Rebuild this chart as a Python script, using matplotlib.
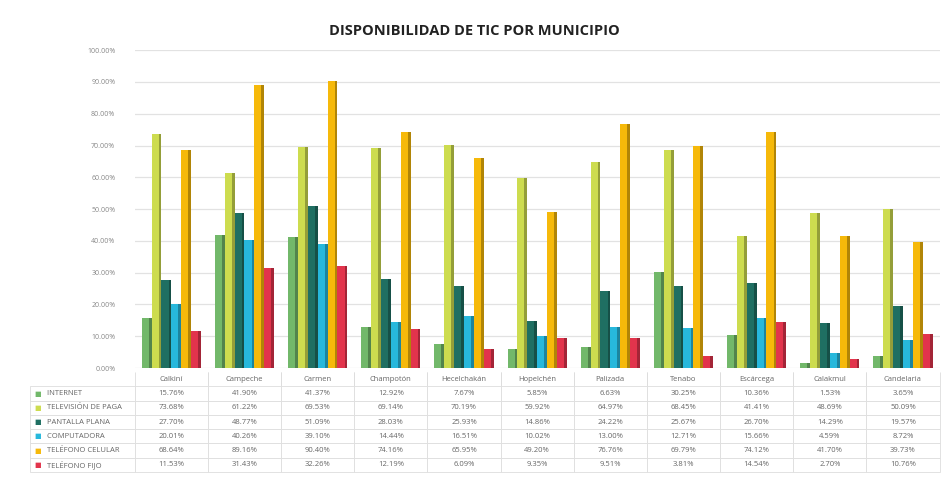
import matplotlib.pyplot as plt
import matplotlib.colors as mcolors
import numpy as np

# Data
municipios = ['Calkiní', 'Campeche', 'Carmen', 'Champotón', 'Hecelchakán', 'Hopelchén',
              'Palizada', 'Tenabo', 'Escárcega', 'Calakmul', 'Candelaria']
series = ['INTERNET', 'TELEVISIÓN DE PAGA', 'PANTALLA PLANA', 'COMPUTADORA',
          'TELÉFONO CELULAR', 'TELÉFONO FIJO']
internet = [15.76, 41.90, 41.37, 12.92, 7.67, 5.85, 6.63, 30.25, 10.36, 1.53, 3.65]
tv_paga = [73.68, 61.22, 69.53, 69.14, 70.19, 59.92, 64.97, 68.45, 41.41, 48.69, 50.09]
pantalla = [27.70, 48.77, 51.09, 28.03, 25.93, 14.86, 24.22, 25.67, 26.70, 14.29, 19.57]
computadora = [20.01, 40.26, 39.10, 14.44, 16.51, 10.02, 13.00, 12.71, 15.66, 4.59, 8.72]
celular = [68.64, 89.16, 90.40, 74.16, 65.95, 49.20, 76.76, 69.79, 74.12, 41.70, 39.73]
fijo = [11.53, 31.43, 32.26, 12.19, 6.09, 9.35, 9.51, 3.81, 14.54, 2.70, 10.76]
colores = ['#72b86a', '#cddc4f', '#1f6f62', '#27b8dc', '#f6b90a', '#e2344c']

valores = [internet, tv_paga, pantalla, computadora, celular, fijo]

plt.rcParams['font.family'] = ['Open Sans', 'DejaVu Sans']

fig = plt.figure(figsize=(9.49, 4.78), dpi=100)
ax = fig.add_axes([0.142, 0.230, 0.848, 0.665])

x = np.arange(len(municipios))
w = 0.135
for i, (vals, c) in enumerate(zip(valores, colores)):
    pos = x + (i - 2.5) * w
    ax.bar(pos, vals, width=w, color=c, zorder=3)
    # darker side to mimic the 3D look
    dark = np.array(mcolors.to_rgb(c)) * 0.72
    ax.bar(pos + w * 0.36, vals, width=w * 0.28, color=dark, zorder=3)

ax.set_xlim(-0.5, len(municipios) - 0.5)
ax.set_ylim(0, 100)
ax.set_yticks(np.arange(0, 101, 10))
ax.set_yticklabels([f'{v:.2f}%' for v in np.arange(0, 101, 10)], fontsize=5, color='#888888')
ax.set_xticks([])
ax.grid(axis='y', color='#e2e2e2', linewidth=0.9, zorder=0)
ax.tick_params(axis='y', length=0, pad=14)
for s in ax.spines.values():
    s.set_visible(False)

# data table below the chart (first column holds the series names)
lab_w = 0.13
cell_text = [['   ' + s] + [f'{v:.2f}%' for v in vals] for s, vals in zip(series, valores)]
tbl = ax.table(cellText=cell_text, colLabels=[''] + municipios, cellLoc='center',
               colWidths=[lab_w] + [1 / 11] * 11,
               bbox=[-lab_w, -0.327, 1 + lab_w, 0.314])
tbl.auto_set_font_size(False)
tbl.set_fontsize(5.5)
for (r, c), cell in tbl.get_celld().items():
    cell.set_edgecolor('#dddddd')
    cell.set_linewidth(0.6)
    cell.get_text().set_color('#666666')
    if r == 0:
        cell.visible_edges = 'LR' if c > 0 else ''
    if c == 0 and r > 0:
        cell.get_text().set_ha('left')
        cell._loc = 'left'

# colored markers for the row labels
for i, c in enumerate(colores):
    yy = -0.013 - 0.314 * (i + 1.5) / 7
    ax.text(-lab_w + 0.005, yy, '■', color=c, fontsize=5, transform=ax.transAxes,
            va='center', ha='left', family='DejaVu Sans')

fig.text(0.5, 0.935, 'DISPONIBILIDAD DE TIC POR MUNICIPIO', ha='center', va='center',
         fontsize=10.5, fontweight='bold', color='#222222')

fig.savefig('out.png', dpi=100, facecolor='white')
